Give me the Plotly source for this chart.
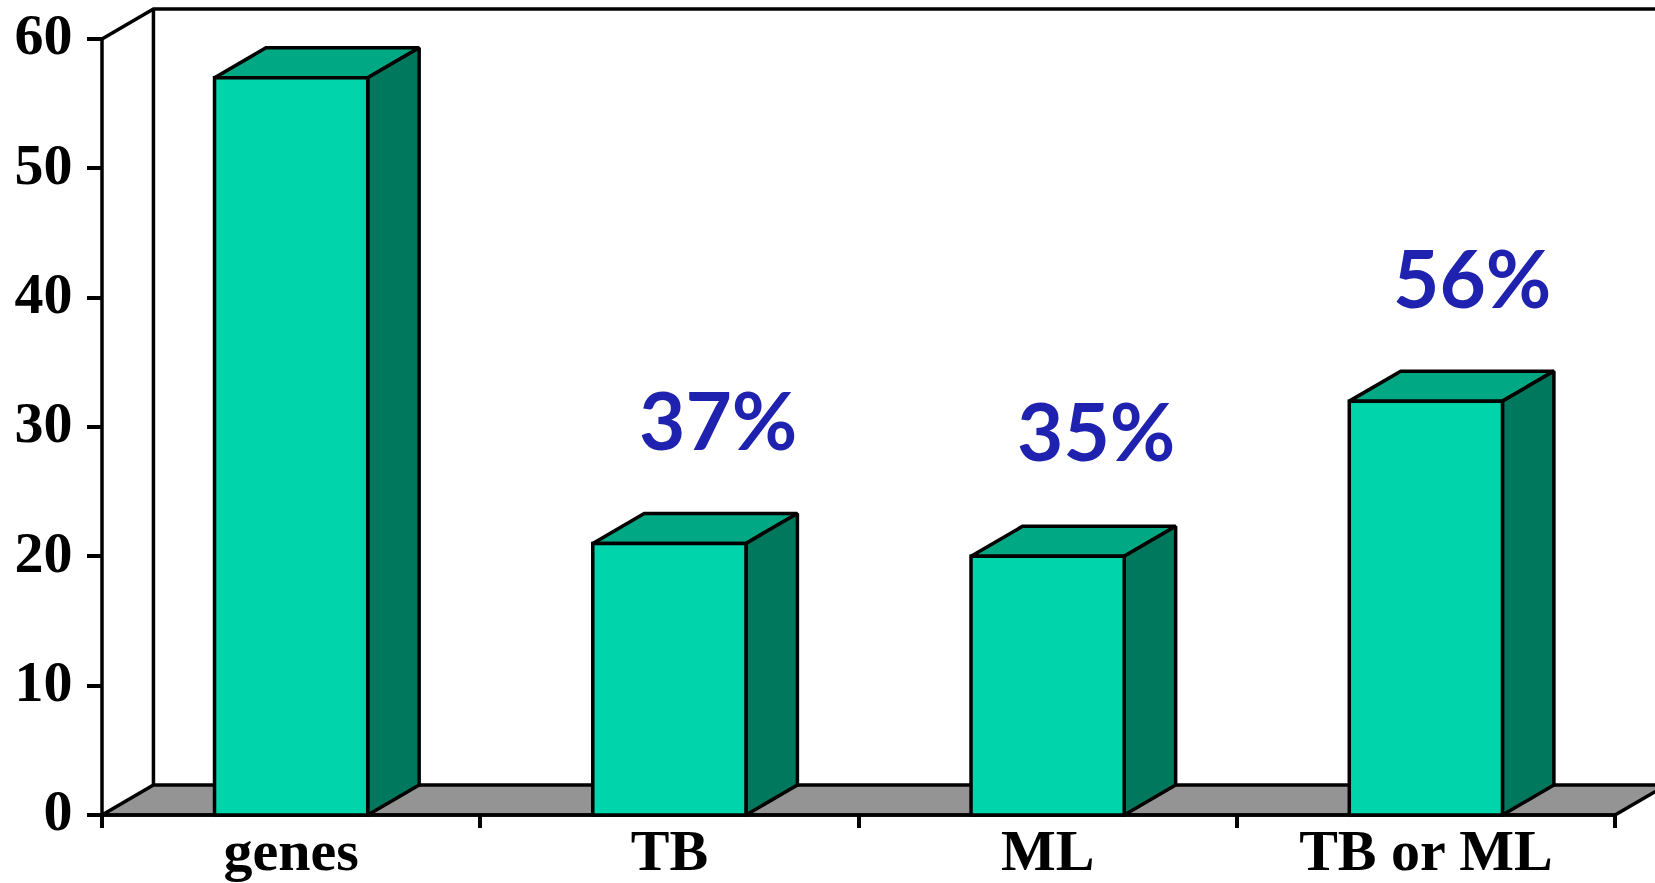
import plotly.graph_objects as go

# Chart data
categories = ["genes", "TB", "ML", "TB or ML"]
gene_counts = [57, 21, 20, 32]
percent_labels = ["", "37%", "35%", "56%"]
percent_heights = [None, 30.6, 29.8, 41.6]
percent_offsets = [None, 0.128, 0.127, 0.122]
y_ticks = [0, 10, 20, 30, 40, 50, 60]

# Style
FRONT = "#00D4AA"
TOP = "#00A884"
SIDE = "#00785E"
FLOOR = "#949494"
LABEL_BLUE = "#1F22AE"
LINE_W = 3.5
BAR_WIDTH = 0.405
# Oblique depth of the pseudo-3D projection, in axis units
DEPTH_X = 0.136
DEPTH_Y = 2.32
X_MIN, X_MAX = -0.5, 3.5
Y_MAX = 60

# Page geometry: the axes span the whole page so the projected box is not clipped
W, H = 1655, 883
LEFT, RIGHT, BASE, TOP_PX = 102, 1615, 815, 39
PX_PER_X = (RIGHT - LEFT) / (X_MAX - X_MIN)
PX_PER_Y = (BASE - TOP_PX) / Y_MAX

fig = go.Figure()


def polygon(xs, ys, fill):
    fig.add_trace(go.Scatter(
        x=xs, y=ys, mode="lines", fill="toself", fillcolor=fill,
        line=dict(color="black", width=LINE_W, simplify=False),
        hoverinfo="skip", showlegend=False,
    ))


def path(xs, ys):
    fig.add_trace(go.Scatter(
        x=xs, y=ys, mode="lines", line=dict(color="black", width=LINE_W, simplify=False),
        hoverinfo="skip", showlegend=False,
    ))


# Floor and back wall of the box
polygon([X_MIN, X_MIN + DEPTH_X, X_MAX + DEPTH_X, X_MAX, X_MIN],
        [0, DEPTH_Y, DEPTH_Y, 0, 0], FLOOR)
path([X_MIN, X_MIN + DEPTH_X, X_MAX + DEPTH_X],
     [Y_MAX, Y_MAX + DEPTH_Y, Y_MAX + DEPTH_Y])
path([X_MIN + DEPTH_X, X_MIN + DEPTH_X], [DEPTH_Y, Y_MAX + DEPTH_Y])

# Value axis and category axis lines
path([X_MIN, X_MIN], [0, Y_MAX])
path([X_MIN, X_MAX], [0, 0])

# Each bar: top, side and front faces
half = BAR_WIDTH / 2
for i, v in enumerate(gene_counts):
    polygon([i - half, i - half + DEPTH_X, i + half + DEPTH_X, i + half, i - half],
            [v, v + DEPTH_Y, v + DEPTH_Y, v, v], TOP)
    polygon([i + half, i + half + DEPTH_X, i + half + DEPTH_X, i + half, i + half],
            [0, DEPTH_Y, v + DEPTH_Y, v, 0], SIDE)
    polygon([i - half, i + half, i + half, i - half, i - half],
            [0, 0, v, v, 0], FRONT)

# Percentage labels above the bars
for i, (label, height, shift) in enumerate(zip(percent_labels, percent_heights, percent_offsets)):
    if label:
        fig.add_annotation(
            x=i + shift, y=height, text=label, showarrow=False,
            font=dict(family="Lato", size=80, color=LABEL_BLUE, weight="bold"),
        )

tick_font = dict(family="Liberation Serif", size=58, color="black", weight="bold")
fig.update_layout(
    width=W, height=H, margin=dict(l=0, r=0, t=0, b=0, pad=0, autoexpand=False),
    paper_bgcolor="white", plot_bgcolor="white", showlegend=False,
    xaxis=dict(
        domain=[0, 1],
        range=[X_MIN - LEFT / PX_PER_X, X_MIN + (W - LEFT) / PX_PER_X],
        anchor="free", position=(H - BASE) / H,
        tickmode="array", tickvals=list(range(len(categories))), ticktext=categories,
        ticks="", showgrid=False, zeroline=False, showline=False, tickfont=tick_font,
        ticklabelstandoff=-4, automargin=False,
        minor=dict(tickmode="array", tickvals=[-0.5, 0.5, 1.5, 2.5, 3.5],
                   ticks="outside", ticklen=12, tickwidth=LINE_W, tickcolor="black",
                   showgrid=False),
    ),
    yaxis=dict(
        domain=[0, 1],
        range=[-(H - BASE) / PX_PER_Y, BASE / PX_PER_Y],
        anchor="free", position=LEFT / W,
        tickmode="array", tickvals=y_ticks, ticks="outside", ticklen=15,
        tickwidth=LINE_W, tickcolor="black", showgrid=False, zeroline=False,
        showline=False, tickfont=tick_font, ticklabelstandoff=3, ticklabelshift=-5,
        automargin=False,
    ),
)

fig.write_html("out.html", config={"displayModeBar": False})
